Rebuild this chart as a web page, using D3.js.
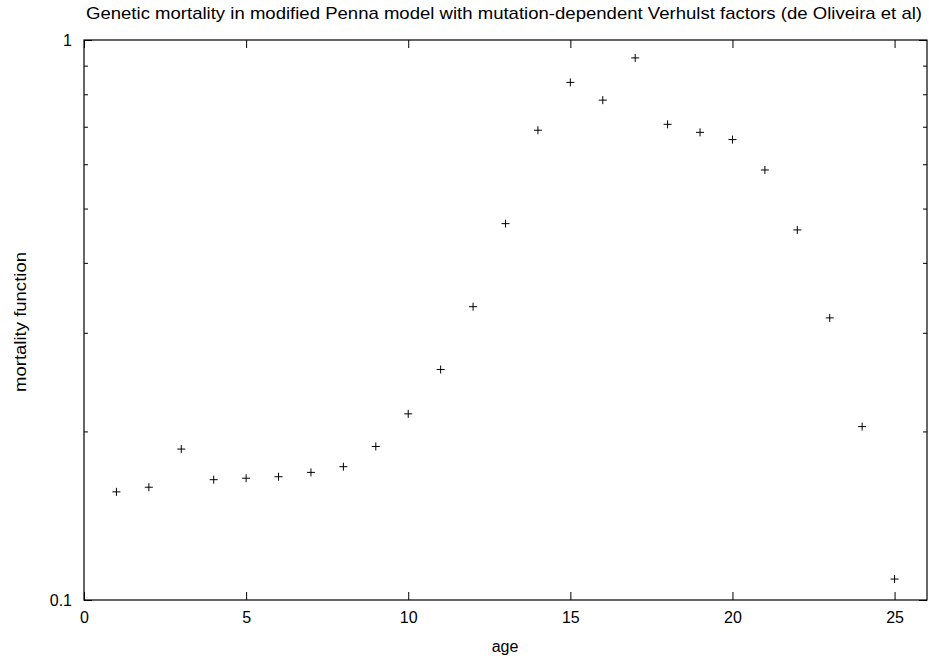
<!DOCTYPE html>
<html>
<head>
<meta charset="utf-8">
<script src="https://cdn.jsdelivr.net/npm/d3@7"></script>
<style>
  body { margin: 0; background: #fff; }
  text { font-family: "Liberation Sans", Arial, sans-serif; fill: #000; }
</style>
</head>
<body>
<div id="chart"></div>
<script>
// data
var ages = [1, 2, 3, 4, 5, 6, 7, 8, 9, 10, 11, 12, 13, 14, 15, 16, 17, 18, 19, 20, 21, 22, 23, 24, 25];
var mortality = [0.156, 0.159, 0.186, 0.164, 0.165, 0.166, 0.169, 0.173, 0.188, 0.215, 0.258, 0.334,
                 0.470, 0.690, 0.840, 0.781, 0.929, 0.707, 0.684, 0.664, 0.586, 0.458, 0.319, 0.204, 0.109];
var xTicks = [0, 5, 10, 15, 20, 25];
var yMajor = [0.1, 1];
var yMinor = [0.2, 0.3, 0.4, 0.5, 0.6, 0.7, 0.8, 0.9];

var svgWidth = 929;
var svgHeight = 659;
var margin = { top: 40, right: 2, bottom: 59, left: 84 };
var chartWidth = svgWidth - margin.left - margin.right;
var chartHeight = svgHeight - margin.top - margin.bottom;

var svg = d3.select("#chart").append("svg")
    .attr("width", svgWidth)
    .attr("height", svgHeight);

var chartGroup = svg.append("g")
    .attr("transform", `translate(${margin.left}, ${margin.top})`);

var xScale = d3.scaleLinear().domain([0, 26]).range([0, chartWidth]);
var yScale = d3.scaleLog().domain([0.1, 1]).range([chartHeight, 0]);

// axes (gnuplot style: ticks inside, mirrored)
var fmt = d3.format("");
var bottomAxis = d3.axisBottom(xScale).tickValues(xTicks).tickSizeInner(-8).tickSizeOuter(0).tickPadding(12);
var topAxis = d3.axisTop(xScale).tickValues(xTicks).tickSizeInner(-8).tickSizeOuter(0).tickFormat("");
var leftAxis = d3.axisLeft(yScale).tickValues(yMajor).tickSizeInner(-8).tickSizeOuter(0).tickPadding(12).tickFormat(fmt);
var rightAxis = d3.axisRight(yScale).tickValues(yMajor).tickSizeInner(-8).tickSizeOuter(0).tickFormat("");
var leftMinor = d3.axisLeft(yScale).tickValues(yMinor).tickSizeInner(-4).tickSizeOuter(0).tickFormat("");
var rightMinor = d3.axisRight(yScale).tickValues(yMinor).tickSizeInner(-4).tickSizeOuter(0).tickFormat("");

function styleAxis(g) {
    g.select(".domain").remove();
    g.selectAll("line").attr("stroke", "#000").attr("stroke-width", 1);
    g.selectAll("text").attr("font-size", 16).attr("font-family", "Liberation Sans, Arial, sans-serif");
}

chartGroup.append("g").attr("transform", `translate(0, ${chartHeight})`).call(bottomAxis).call(styleAxis);
chartGroup.append("g").call(topAxis).call(styleAxis);
chartGroup.append("g").call(leftAxis).call(styleAxis);
chartGroup.append("g").attr("transform", `translate(${chartWidth}, 0)`).call(rightAxis).call(styleAxis);
chartGroup.append("g").call(leftMinor).call(styleAxis);
chartGroup.append("g").attr("transform", `translate(${chartWidth}, 0)`).call(rightMinor).call(styleAxis);

// border
chartGroup.append("rect")
    .attr("x", 0).attr("y", 0)
    .attr("width", chartWidth).attr("height", chartHeight)
    .attr("fill", "none").attr("stroke", "#000").attr("stroke-width", 1.2);

// points as "+"
var pts = chartGroup.selectAll(".pt")
    .data(ages.map((a, i) => ({ age: a, m: mortality[i] })))
    .enter().append("path")
    .attr("class", "pt")
    .attr("d", d => {
        var x = xScale(d.age), y = yScale(d.m);
        return `M${x - 4},${y}H${x + 4}M${x},${y - 4}V${y + 4}`;
    })
    .attr("stroke", "#000")
    .attr("stroke-width", 1)
    .attr("fill", "none");

// title and axis labels
svg.append("text")
    .attr("x", 504).attr("y", 19)
    .attr("text-anchor", "middle")
    .attr("font-size", 17)
    .attr("textLength", 836)
    .attr("lengthAdjust", "spacingAndGlyphs")
    .text("Genetic mortality in modified Penna model with mutation-dependent Verhulst factors (de Oliveira et al)");

svg.append("text")
    .attr("x", 505).attr("y", 652)
    .attr("text-anchor", "middle")
    .attr("font-size", 16)
    .text("age");

svg.append("text")
    .attr("transform", "translate(26, 322) rotate(-90)")
    .attr("text-anchor", "middle")
    .attr("font-size", 17)
    .attr("textLength", 140)
    .attr("lengthAdjust", "spacingAndGlyphs")
    .text("mortality function");
</script>
</body>
</html>
